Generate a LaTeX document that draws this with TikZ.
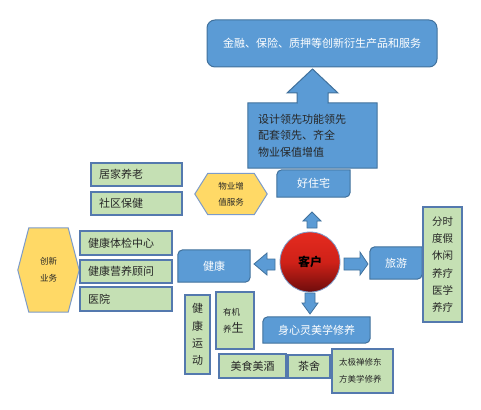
\documentclass[tikz,border=0pt]{standalone}
\usepackage{fontspec}
\setmainfont{Noto Sans CJK SC}
\usetikzlibrary{backgrounds}
\definecolor{bfill}{HTML}{5B9BD5}
\definecolor{bline}{HTML}{41719C}
\definecolor{gfill}{HTML}{C5E0B4}
\definecolor{gline}{HTML}{5479AE}
\definecolor{yfill}{HTML}{FFD966}
\definecolor{yline}{HTML}{7C9BC9}
\definecolor{ink}{HTML}{262626}
\definecolor{rtop}{HTML}{E52B1F}
\definecolor{rmid}{HTML}{CF2118}
\definecolor{rbot}{HTML}{6E0C0C}
\newcommand\rdiagbox[1]{%
  \begin{scope}[on background layer]
    \filldraw[bshape] ([yshift=-5pt]#1.north west) arc[start angle=180,end angle=90,radius=5pt]
      -- (#1.north east) -- ([yshift=5pt]#1.south east) arc[start angle=0,end angle=-90,radius=5pt]
      -- (#1.south west) -- cycle;
  \end{scope}}
\newcommand\hexbg[2]{%
  \begin{scope}[on background layer]
    \filldraw[hexshape] (#1.west) -- ([xshift=#2]#1.north west) -- ([xshift=-#2]#1.north east)
      -- (#1.east) -- ([xshift=-#2]#1.south east) -- ([xshift=#2]#1.south west) -- cycle;
  \end{scope}}
\tikzset{
  gbox/.style={draw=gline, fill=gfill, line width=1.2pt, inner xsep=8pt, inner ysep=0pt,
    text=ink, font=\fontsize{11}{13}\selectfont, align=left},
  btext/.style={text=white, font=\fontsize{11}{13}\selectfont, inner sep=0pt, align=center},
  bshape/.style={draw=bline, fill=bfill, line width=1pt},
  hexshape/.style={draw=yline, fill=yfill, line width=1pt},
  blockarrow/.style={draw=bline, fill=bfill, line width=0.8pt},
}
\begin{document}
\begin{tikzpicture}[x=1pt,y=-1pt]
\useasboundingbox (0,0) rectangle (481,409);
% top box
\node[bshape, rounded corners=8pt, btext, minimum width=230pt, minimum height=47pt] (top) at (322,43.5)
  {金融、保险、质押等创新衍生产品和服务};
% callout
\node[minimum width=129pt, minimum height=65pt, text width=109pt, inner xsep=10pt, inner ysep=0pt,
  align=left, text=ink, font=\fontsize{11}{16.5}\selectfont] (call) at (312.5,135.5)
  {设计领先功能领先\\配套领先、齐全\\物业保值增值};
\begin{scope}[on background layer]
  \filldraw[bshape] (call.south west) -- (call.north west) -- (297,103) -- (297,93) -- (287,93)
    -- (312.5,69) -- (338,93) -- (328,93) -- (328,103) -- (call.north east) -- (call.south east) -- cycle;
\end{scope}
% blue diagonal boxes
\node[btext, minimum width=73pt, minimum height=27pt] (hzz) at (313.5,183.5) {好住宅};
\rdiagbox{hzz}
\node[btext, minimum width=72pt, minimum height=32pt] (jk) at (214,266) {健康};
\rdiagbox{jk}
\node[btext, minimum width=52pt, minimum height=32pt] (ly) at (396,263) {旅游};
\rdiagbox{ly}
\node[btext, minimum width=107pt, minimum height=26pt] (sx) at (316.5,330) {身心灵美学修养};
\rdiagbox{sx}
% hexagons
\node[minimum width=72pt, minimum height=41pt, inner sep=0pt, align=center, text=ink,
  font=\fontsize{8.5}{16}\selectfont] (wy) at (231,194) {物业增\\值服务};
\hexbg{wy}{13pt}
\node[minimum width=61pt, minimum height=84pt, inner sep=0pt, align=center, text=ink,
  font=\fontsize{8.5}{17}\selectfont] (cx) at (48.5,270) {创新\\业务};
\hexbg{cx}{11pt}
% green boxes
\node[gbox, text width=75pt, minimum height=23pt] (jj) at (136.5,174.5) {居家养老};
\node[gbox, text width=75pt, minimum height=23pt] (sq) at (136.5,203.5) {社区保健};
\node[gbox, text width=76pt, minimum height=24pt] (tj) at (126,243) {健康体检中心};
\node[gbox, text width=76pt, minimum height=23pt] (yy) at (126,271.5) {健康营养顾问};
\node[gbox, text width=76pt, minimum height=24pt] (yh) at (126,299) {医院};
\node[gbox, inner xsep=0pt, text width=39pt, minimum height=115pt, align=center,
  font=\fontsize{10.5}{17.3}\selectfont] (fs) at (442.5,264.5) {分时\\度假\\休闲\\养疗\\医学\\养疗};
\node[gbox, inner xsep=0pt, text width=25pt, minimum height=79pt, align=center,
  font=\fontsize{11}{17.3}\selectfont] (yd) at (197.5,334.5) {健\\康\\运\\动};
\node[gbox, inner xsep=7pt, text width=24pt, minimum height=57pt,
  font=\fontsize{8.5}{17}\selectfont] (yj) at (235,320.5) {有机\\养{\fontsize{12}{17}\selectfont 生}};
\node[gbox, inner xsep=0pt, text width=67pt, minimum height=24pt, align=center] (ms) at (252.5,366) {美食美酒};
\node[gbox, inner xsep=0pt, text width=42pt, minimum height=23pt, align=center] (cs) at (309,366.5) {茶舍};
\node[gbox, inner xsep=7pt, text width=47pt, minimum height=44pt,
  font=\fontsize{8.5}{17}\selectfont] (tjc) at (362.5,371) {太极禅修东\\方美学修养};
% centre circle
\node[circle, minimum size=60pt, inner sep=0pt, draw=yline, line width=0.8pt,
  top color=rtop, bottom color=rbot, middle color=rmid,
  font=\bfseries\fontsize{12}{14}\selectfont] (kh) at (310,262) {客户};
% block arrows
\filldraw[blockarrow] (307,228) -- (307,221) -- (303,221) -- (312,212) -- (321,221) -- (317,221) -- (317,228) -- cycle;
\filldraw[blockarrow] (305,293) -- (305,303) -- (302,303) -- (310,314) -- (318,303) -- (315,303) -- (315,293) -- cycle;
\filldraw[blockarrow] (275,259) -- (267,259) -- (267,253) -- (254,264) -- (267,275) -- (267,270) -- (275,270) -- cycle;
\filldraw[blockarrow] (344,258) -- (360,258) -- (360,252) -- (368,264) -- (360,275) -- (360,270) -- (344,270) -- cycle;
\end{tikzpicture}
\end{document}
